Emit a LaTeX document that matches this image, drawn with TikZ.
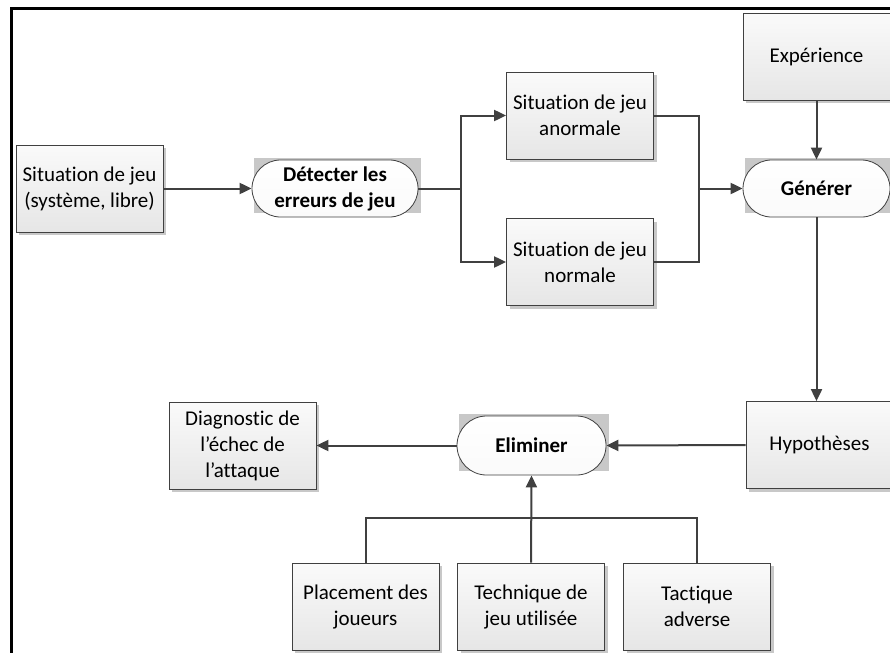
\documentclass[tikz,border=0pt]{standalone}
\usepackage{fontspec}
\setmainfont{Carlito}[Ligatures=NoCommon]
\usetikzlibrary{arrows.meta,shapes.misc,backgrounds}
\definecolor{boxline}{HTML}{404040}
\definecolor{flowgray}{HTML}{404040}
\definecolor{shadowgray}{HTML}{C8C8C8}
\definecolor{boxtop}{HTML}{FAFAFA}
\definecolor{boxbottom}{HTML}{E6E6E6}
\begin{document}
\begin{tikzpicture}[x=1pt,y=-1pt,
    box/.style={draw=boxline, line width=0.8pt, top color=boxtop, bottom color=boxbottom,
      minimum width=147pt, minimum height=87pt, inner sep=0pt, align=center,
      font=\fontsize{21}{26}\selectfont,
      preaction={fill=shadowgray, transform canvas={xshift=3pt,yshift=-3pt}}},
    pill/.style={rounded rectangle, draw=boxline, line width=0.8pt, top color=white, bottom color=boxtop,
      minimum height=57pt, inner sep=0pt, align=center,
      font=\fontsize{21}{26}\selectfont\bfseries},
    flow/.style={draw=flowgray, line width=2pt, -{Triangle[length=12pt,width=11pt]}},
    link/.style={draw=flowgray, line width=2pt}]
  \useasboundingbox (0,0) rectangle (890,653);
  \draw[line width=3pt] (890,8) -- (11.5,8) -- (11.5,653);
  \draw
    (89.5,188.5) node[box] (sit) {Situation de jeu\\(système, libre)}
    (335,188.5) node[pill, minimum width=166pt] (det) {Détecter les\\erreurs de jeu}
    (580,115.5) node[box] (anorm) {Situation de jeu\\anormale}
    (580,262) node[box] (norm) {Situation de jeu\\normale}
    (816.5,56.5) node[box] (exp) {Expérience}
    (816.5,188.5) node[pill, minimum width=147pt] (gen) {Générer}
    (819.5,445) node[box] (hyp) {Hypothèses}
    (531.5,445.5) node[pill, minimum width=149pt, minimum height=59pt] (elim) {Eliminer}
    (242.5,445.5) node[box] (diag) {Diagnostic de\\l’échec de\\l’attaque}
    (365.5,606.5) node[box] (place) {Placement des\\joueurs}
    (531,606.5) node[box] (tech) {Technique de\\jeu utilisée}
    (697,606.5) node[box] (tact) {Tactique\\adverse};
  \begin{scope}[on background layer]
    \fill[shadowgray] ([xshift=2pt,yshift=2pt]det.west |- det.north) rectangle ([xshift=3pt,yshift=4pt]det.east |- det.south);
    \fill[shadowgray] ([xshift=2pt,yshift=2pt]gen.west |- gen.north) rectangle ([xshift=3pt,yshift=4pt]gen.east |- gen.south);
    \fill[shadowgray] ([xshift=2pt,yshift=2pt]elim.west |- elim.north) rectangle ([xshift=3pt,yshift=4pt]elim.east |- elim.south);
  \end{scope}
  \coordinate (split) at (461,188.5);
  \coordinate (join) at (699,188.5);
  \coordinate (bus) at (531,518);
  \begin{scope}[flow]
    \draw (sit) to (det);
    \draw (det.east) -- (split) |- (anorm.west);
    \draw (split) |- (norm.west);
    \draw (join) -- (gen.west);
    \draw (exp.south -| gen.south) -- (gen.north);
    \draw (gen.south) -- (gen.south |- hyp.north);
    \draw (hyp.west) -- (elim.east);
    \draw (elim.west) -- (diag.east);
    \draw (tech.north) -- (elim.south);
  \end{scope}
  \begin{scope}[link]
    \draw (anorm.east) -| (join);
    \draw (norm.east) -| (join);
    \draw (place.north) |- (bus) -| (tact.north);
  \end{scope}
\end{tikzpicture}
\end{document}
